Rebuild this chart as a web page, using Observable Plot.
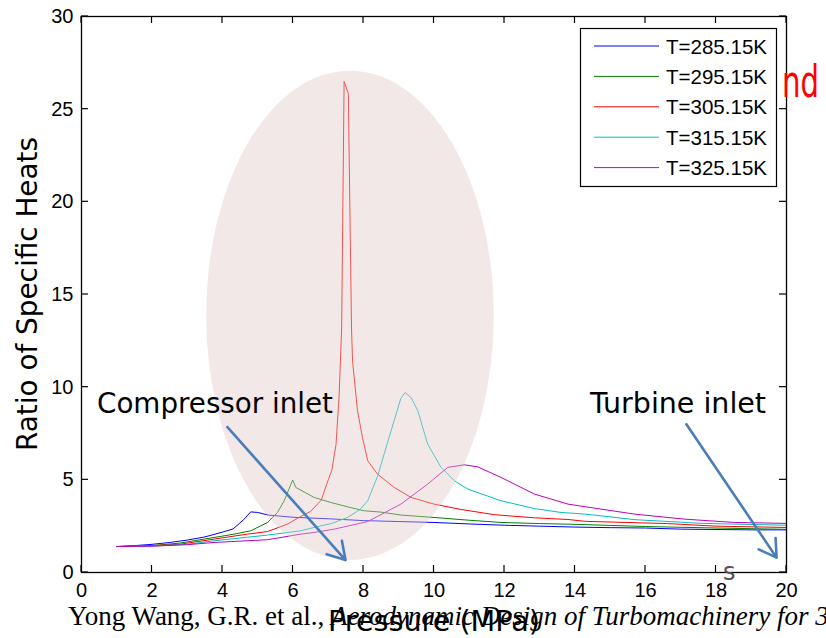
<!DOCTYPE html>
<html><head><meta charset="utf-8">
<script src="https://cdn.jsdelivr.net/npm/d3@7"></script>
<script src="https://cdn.jsdelivr.net/npm/@observablehq/plot@0.6"></script>
<style>body{margin:0;background:#fff;overflow:hidden}</style>
</head><body><div id="chart"></div>
<script>
// ---- data ----
const seriesNames = ["T=285.15K", "T=295.15K", "T=305.15K", "T=315.15K", "T=325.15K"];
const seriesColors = ["#0000ff", "#008000", "#ff0000", "#00bfbf", "#bf00bf"];

const p285 = [1, 1.5, 2, 2.5, 3, 3.5, 4, 4.3, 4.6, 4.8, 5.0, 5.3, 6, 7, 8, 9, 10, 11, 12, 13, 14, 15, 16, 17, 18, 19, 20];
const r285 = [1.4, 1.45, 1.52, 1.62, 1.75, 1.92, 2.18, 2.35, 2.85, 3.27, 3.24, 3.1, 2.98, 2.9, 2.8, 2.75, 2.7, 2.62, 2.55, 2.5, 2.45, 2.42, 2.4, 2.34, 2.32, 2.3, 2.3];

const p295 = [1, 2, 2.8, 3.76, 4.33, 4.8, 5.28, 5.56, 5.75, 5.99, 6.08, 6.6, 7.07, 7.64, 8.02, 8.49, 9.06, 10, 11, 11.9, 13, 14, 16, 18, 20];
const r295 = [1.4, 1.45, 1.59, 1.89, 2.07, 2.25, 2.7, 3.24, 3.87, 4.99, 4.59, 4.05, 3.78, 3.5, 3.33, 3.26, 3.1, 2.97, 2.82, 2.7, 2.64, 2.6, 2.48, 2.4, 2.33];

const p305 = [1, 2, 2.81, 3.76, 4.7, 5.28, 5.84, 6.2, 6.5, 6.8, 7.0, 7.1, 7.22, 7.31, 7.38, 7.45, 7.57, 7.66, 7.69, 7.83, 7.97, 8.12, 8.4, 8.87, 9.35, 10, 10.77, 11.71, 12.85, 13.8, 14.3, 16.6, 18, 20];
const r305 = [1.4, 1.45, 1.53, 1.8, 2.07, 2.21, 2.61, 3.0, 3.3, 3.9, 5.0, 5.5, 6.9, 9.6, 13.2, 26.5, 25.85, 13.2, 11.4, 8.73, 7.29, 6.03, 5.3, 4.59, 4.05, 3.69, 3.4, 3.12, 2.95, 2.86, 2.76, 2.64, 2.5, 2.43];

const p315 = [1, 2, 3, 3.76, 5.28, 6.22, 6.6, 7.1, 7.55, 7.9, 8.12, 8.4, 8.68, 8.87, 9.06, 9.18, 9.35, 9.54, 9.82, 10.2, 10.58, 10.96, 11.9, 12.85, 13.6, 14.3, 15.7, 17.6, 20];
const r315 = [1.4, 1.43, 1.52, 1.71, 2.02, 2.25, 2.43, 2.65, 2.97, 3.4, 3.87, 5.2, 7.0, 8.2, 9.4, 9.71, 9.44, 8.73, 6.93, 5.67, 4.95, 4.5, 3.87, 3.45, 3.24, 3.15, 2.85, 2.65, 2.55];

const p325 = [1, 2, 3, 3.76, 5.28, 6.22, 6.6, 7.17, 8.12, 9.06, 9.82, 10.39, 10.86, 11.24, 11.9, 12.85, 13.8, 14.74, 15.69, 17.1, 18.53, 20];
const r325 = [1.4, 1.42, 1.5, 1.62, 1.77, 2.07, 2.16, 2.34, 2.75, 3.69, 4.77, 5.67, 5.81, 5.7, 5.13, 4.23, 3.69, 3.42, 3.15, 2.88, 2.7, 2.65];

const xTicks = [0, 2, 4, 6, 8, 10, 12, 14, 16, 18, 20];
const yTicks = [0, 5, 10, 15, 20, 25, 30];

const xLabel = "Pressure (MPa)";
const yLabel = "Ratio of Specific Heats";
const noteCompressor = "Compressor inlet";
const noteTurbine = "Turbine inlet";
const footerPlain = "Yong Wang, G.R. et al., ";
const footerItalic = "Aerodynamic Design of Turbomachinery for 3";
const titleFragment = "nd";

// annotation geometry in data units
const highlight = {cx: 7.63, cy: 13.85, rx: 4.08, ry: 13.2};
const arrows = [
  {x1: 4.14, y1: 7.85, x2: 7.49, y2: 0.67},
  {x1: 17.16, y1: 8.0, x2: 19.72, y2: 0.8}
];

// ---- build table ----
const seriesP = [p285, p295, p305, p315, p325];
const seriesR = [r285, r295, r305, r315, r325];
const rows = [];
seriesNames.forEach((name, i) => seriesP[i].forEach((p, j) => rows.push({series: name, p, r: seriesR[i][j]})));

const ML = 81, MR = 40, MT = 16, MB = 66, W = 826, H = 638;

const ellipseMark = (index, scales) => {
  const {x, y} = scales;
  const g = d3.create("svg:g");
  g.append("ellipse")
    .attr("cx", x(highlight.cx)).attr("cy", y(highlight.cy))
    .attr("rx", Math.abs(x(highlight.cx + highlight.rx) - x(highlight.cx)))
    .attr("ry", Math.abs(y(highlight.cy + highlight.ry) - y(highlight.cy)))
    .attr("fill", "#e3c9c9").attr("fill-opacity", 0.42);
  return g.node();
};

const tickMark = (index, scales) => {
  const {x, y} = scales;
  const g = d3.create("svg:g").attr("stroke", "#000").attr("stroke-width", 1.2);
  const x0 = x(0), x1 = x(20), y0 = y(0), y1 = y(30), L = 7;
  for (const t of xTicks) {
    g.append("line").attr("x1", x(t)).attr("x2", x(t)).attr("y1", y0).attr("y2", y0 - L);
    g.append("line").attr("x1", x(t)).attr("x2", x(t)).attr("y1", y1).attr("y2", y1 + L);
  }
  for (const t of yTicks) {
    g.append("line").attr("y1", y(t)).attr("y2", y(t)).attr("x1", x0).attr("x2", x0 + L);
    g.append("line").attr("y1", y(t)).attr("y2", y(t)).attr("x1", x1).attr("x2", x1 - L);
  }
  return g.node();
};

const textMark = () => {
  const g = d3.create("svg:g").attr("text-anchor", "start");
  // annotations
  g.append("text").text(noteCompressor)
    .attr("x", 97).attr("y", 413).attr("font-family", "DejaVu Sans").attr("font-size", 29)
    .attr("textLength", 236).attr("lengthAdjust", "spacingAndGlyphs").attr("fill", "#000");
  g.append("text").text(noteTurbine)
    .attr("x", 590).attr("y", 413).attr("font-family", "DejaVu Sans").attr("font-size", 29)
    .attr("textLength", 176).attr("lengthAdjust", "spacingAndGlyphs").attr("fill", "#000");
  // red title fragment
  g.append("text").text(titleFragment)
    .attr("x", 782).attr("y", 97).attr("font-family", "DejaVu Sans").attr("font-size", 44)
    .attr("textLength", 37).attr("lengthAdjust", "spacingAndGlyphs").attr("fill", "#ff0000");
  // stray grey glyph near lower right
  g.append("text").text("s")
    .attr("x", 723).attr("y", 580).attr("font-family", "DejaVu Sans").attr("font-size", 24)
    .attr("fill", "#555");
  // y label
  g.append("text").text(yLabel)
    .attr("transform", "translate(37,294) rotate(-90)").attr("text-anchor", "middle")
    .attr("font-family", "DejaVu Sans").attr("font-size", 29)
    .attr("textLength", 314).attr("lengthAdjust", "spacingAndGlyphs").attr("fill", "#000");
  // footer citation
  const f = g.append("text").attr("x", 68).attr("y", 625)
    .attr("font-family", "Liberation Serif").attr("font-size", 27).attr("fill", "#000");
  f.append("tspan").text(footerPlain);
  f.append("tspan").attr("font-style", "italic").text(footerItalic);
  // x label (overlapping the footer as in the reference)
  g.append("text").text(xLabel)
    .attr("x", 328).attr("y", 631).attr("font-family", "DejaVu Sans").attr("font-size", 29)
    .attr("textLength", 212).attr("lengthAdjust", "spacingAndGlyphs").attr("fill", "#000");
  return g.node();
};

const legendMark = () => {
  const g = d3.create("svg:g").attr("text-anchor", "start");
  g.append("rect").attr("x", 580.5).attr("y", 28.5).attr("width", 196).attr("height", 158)
    .attr("fill", "#fff").attr("stroke", "#000").attr("stroke-width", 1.2);
  seriesNames.forEach((name, i) => {
    const cy = 46 + i * 30.4;
    g.append("line").attr("x1", 594).attr("x2", 659).attr("y1", cy).attr("y2", cy)
      .attr("stroke", seriesColors[i]).attr("stroke-width", 1);
    g.append("text").text(name).attr("x", 666).attr("y", cy).attr("dy", "0.36em")
      .attr("font-family", "Liberation Sans").attr("font-size", 21)
      .attr("textLength", 101).attr("lengthAdjust", "spacingAndGlyphs").attr("fill", "#000");
  });
  return g.node();
};

const chart = Plot.plot({
  width: W, height: H,
  marginLeft: ML, marginRight: MR, marginTop: MT, marginBottom: MB,
  style: {background: "#fff", fontFamily: "Liberation Sans", fontSize: "20px", color: "#000", overflow: "visible"},
  x: {domain: [0, 20], ticks: xTicks, label: null},
  y: {domain: [0, 30], ticks: yTicks, label: null},
  color: {domain: seriesNames, range: seriesColors},
  marks: [
    Plot.line(rows, {x: "p", y: "r", z: "series", stroke: "series", strokeWidth: 1}),
    ellipseMark,
    Plot.arrow(arrows, {x1: "x1", y1: "y1", x2: "x2", y2: "y2", stroke: "#4a7ebb", strokeWidth: 2.6, headLength: 11.4, headAngle: 62}),
    Plot.frame({stroke: "#000", strokeWidth: 1.3}),
    Plot.axisX(xTicks, {anchor: "bottom", tickSize: 0, tickPadding: 10, fontSize: 20, fill: "#000"}),
    Plot.axisY(yTicks, {anchor: "left", tickSize: 0, tickPadding: 8, fontSize: 20, fill: "#000"}),
    tickMark,
    textMark,
    legendMark
  ]
});
document.getElementById("chart").appendChild(chart);
</script>
</body></html>
